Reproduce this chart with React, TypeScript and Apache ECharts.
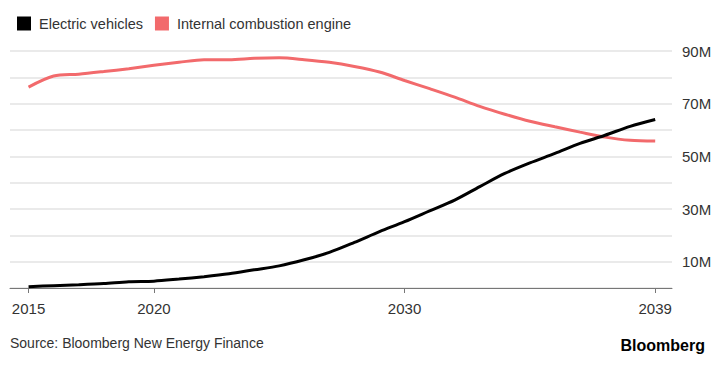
import React, { useEffect, useRef } from "react";
import * as echarts from "echarts";

const YEARS = [2015, 2016, 2017, 2018, 2019, 2020, 2021, 2022, 2023, 2024, 2025, 2026, 2027, 2028, 2029, 2030, 2031, 2032, 2033, 2034, 2035, 2036, 2037, 2038, 2039, 2040];
const EV = [0.5, 0.9, 1.25, 1.7, 2.4, 2.6, 3.4, 4.3, 5.4, 6.9, 8.4, 10.7, 13.5, 17.3, 21.4, 25.2, 29.3, 33.4, 38.5, 43.5, 47.5, 51.1, 54.9, 58, 61.4, 64];
const ICE = [76.3, 80.5, 81.2, 82.2, 83.3, 84.6, 85.7, 86.7, 86.7, 87.2, 87.4, 86.7, 85.7, 84.1, 82, 78.8, 75.7, 72.5, 69, 66, 63.3, 61.2, 59.2, 57.3, 56.1, 55.8];
const X_TICK_VALUES = [2015, 2020, 2030, 2040];
const X_TICK_LABELS = ["2015", "2020", "2030", "2039"];
const Y_LABELED = [10, 30, 50, 70, 90];

const FONT = "'Liberation Sans', Arial, Helvetica, sans-serif";

export default function App() {
  const ref = useRef<HTMLDivElement>(null);
  useEffect(() => {
    if (!ref.current) return;
    const chart = echarts.init(ref.current, null, { renderer: "svg" });
    chart.setOption({
      animation: false,
      backgroundColor: "#ffffff",
      textStyle: { fontFamily: FONT },
      legend: {
        left: 12,
        top: 11,
        icon: "rect",
        itemWidth: 14,
        itemHeight: 14,
        itemGap: 12,
        textStyle: { fontSize: 14.5, color: "#333", fontFamily: FONT, padding: [0, 0, 0, 3] },
        data: ["Electric vehicles", "Internal combustion engine"],
      },
      grid: { left: 10, right: 52, top: 51, bottom: 78, containLabel: false },
      xAxis: {
        type: "value",
        min: 2014.26,
        max: 2040.67,
        axisLine: { show: true, lineStyle: { color: "#777", width: 1 } },
        axisTick: { show: true, length: 5, lineStyle: { color: "#777" }, customValues: X_TICK_VALUES },
        axisLabel: {
          customValues: X_TICK_VALUES,
          formatter: (v: number) => {
            const i = X_TICK_VALUES.indexOf(Math.round(v));
            return i >= 0 ? X_TICK_LABELS[i] : "";
          },
          margin: 13,
          fontSize: 15,
          color: "#333",
          fontFamily: FONT,
        },
        splitLine: { show: false },
      },
      yAxis: {
        type: "value",
        position: "right",
        min: 0,
        max: 90,
        interval: 10,
        axisLine: { show: false },
        axisTick: { show: false },
        axisLabel: {
          formatter: (v: number) => (Y_LABELED.indexOf(v) >= 0 ? v + "M" : ""),
          margin: 10,
          fontSize: 15,
          color: "#333",
          fontFamily: FONT,
        },
        splitLine: { show: true, lineStyle: { color: "#e3e3e3", width: 1.5 } },
      },
      series: [
        {
          name: "Electric vehicles",
          type: "line",
          data: YEARS.map((y, i) => [y, EV[i]]),
          smooth: 0.3,
          showSymbol: false,
          lineStyle: { color: "#000000", width: 3 },
          itemStyle: { color: "#000000" },
          z: 3,
        },
        {
          name: "Internal combustion engine",
          type: "line",
          data: YEARS.map((y, i) => [y, ICE[i]]),
          smooth: 0.3,
          showSymbol: false,
          lineStyle: { color: "#f26a6c", width: 3 },
          itemStyle: { color: "#f26a6c" },
          z: 2,
        },
      ],
      graphic: [
        {
          type: "text",
          left: 10,
          top: 336,
          style: { text: "Source: Bloomberg New Energy Finance", fontSize: 14, fill: "#333", fontFamily: FONT },
        },
        {
          type: "text",
          right: 19,
          top: 337,
          style: { text: "Bloomberg", fontSize: 16, fontWeight: "bold", fill: "#000", fontFamily: FONT },
        },
      ],
    });
    return () => chart.dispose();
  }, []);
  return <div ref={ref} style={{ position: "fixed", left: 0, top: 0, width: 724, height: 366 }} />;
}
